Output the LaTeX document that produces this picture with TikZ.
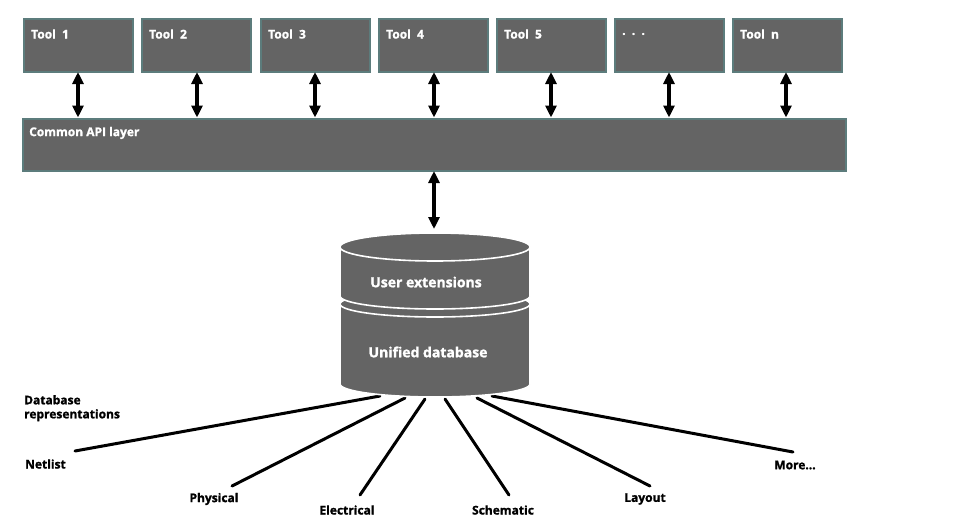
\documentclass[tikz,border=0pt]{standalone}
\usepackage{fontspec}
\setmainfont[FakeBold=1.3]{Open Sans}
\usetikzlibrary{arrows.meta}
\definecolor{boxfill}{RGB}{100,100,100}
\definecolor{boxedge}{RGB}{92,124,124}
\tikzset{
  toolbox/.style={draw=boxedge, line width=2pt, fill=boxfill, minimum width=109pt, minimum height=53pt, inner sep=0pt, anchor=north west},
  boxtext/.style={text=white, font=\fontsize{12}{14}\selectfont\bfseries, anchor=west, inner sep=0pt},
  dblarrow/.style={line width=3.2pt, {Triangle[length=12pt,width=11pt]}-{Triangle[length=12pt,width=11pt]}},
  dbsection/.style={fill=boxfill, draw=white, line width=1.6pt},
  spoke/.style={line width=3pt, line cap=round},
  replabel/.style={font=\fontsize{12}{14}\selectfont\bfseries, inner sep=0pt},
  dbtext/.style={text=white, font=\fontsize{14}{16}\selectfont\bfseries, inner sep=0pt}
}
\begin{document}
\begin{tikzpicture}[x=1pt, y=-1pt]
\useasboundingbox (0,0) rectangle (962,520);
% tool boxes
\foreach \i/\x/\t in {1/23/Tool\ \ 1, 2/141/Tool\ \ 2, 3/260/Tool\ \ 3, 4/378/Tool\ \ 4, 5/496/Tool\ \ 5, 6/614/.\ \ .\ \ ., 7/732/Tool\ \ n}{
  \node[toolbox] (tool\i) at (\x,18) {};
  \node[boxtext] (tooltext\i) at (\x+8,34) {\t};
}
% API layer
\node[toolbox, minimum width=823pt, minimum height=52pt] (api) at (22,118) {};
\node[boxtext] (apitext) at (29,133) {Common API layer};
% arrows tool -> api
\foreach \i/\x in {1/78, 2/197, 3/315, 4/434, 5/551, 6/669, 7/786}{
  \draw[dblarrow] (\x,72) -- (\x,117.5);
}
% arrow api -> db
\draw[dblarrow] (434,171) -- (434,229);
% spokes
\coordinate (s1) at (380,396);
\coordinate (s2) at (405,398);
\coordinate (s3) at (425,399);
\coordinate (s4) at (445,399);
\coordinate (s5) at (477,398);
\coordinate (s6) at (492,396);
\coordinate (e1) at (75,451);
\coordinate (e2) at (232,486);
\coordinate (e3) at (360,495);
\coordinate (e4) at (509,495);
\coordinate (e5) at (650,486);
\coordinate (e6) at (793,452);
\foreach \k in {1,...,6}{ \draw[spoke] (s\k) -- (e\k); }
% database cylinder: lower section
\path[dbsection] (340,304) -- (340,384) arc[start angle=180, end angle=360, x radius=95pt, y radius=13pt]
   -- (530,304) arc[start angle=0, end angle=180, x radius=95pt, y radius=13pt] -- cycle;
\draw[white, line width=1.6pt] (340,304) arc[start angle=180, end angle=360, x radius=95pt, y radius=13pt];
% upper section
\path[dbsection] (340,247) -- (340,296) arc[start angle=180, end angle=360, x radius=95pt, y radius=13pt]
   -- (530,247) arc[start angle=0, end angle=180, x radius=95pt, y radius=14pt] -- cycle;
\draw[white, line width=1.6pt] (340,247) arc[start angle=180, end angle=360, x radius=95pt, y radius=14pt];
\node[dbtext] (userext) at (426,282) {User extensions};
\node[dbtext] (unified) at (428,352) {Unified database};
% labels
\node[replabel, anchor=north west, align=left] (dbrep) at (24,395) {Database\\representations};
\node[replabel, anchor=west] (netlist) at (25,464) {Netlist};
\node[replabel] (physical) at (214,499) {Physical};
\node[replabel] (electrical) at (347,510) {Electrical};
\node[replabel] (schematic) at (503,510) {Schematic};
\node[replabel] (layout) at (645,499) {Layout};
\node[replabel] (more) at (795,465) {More...};
\end{tikzpicture}
\end{document}
